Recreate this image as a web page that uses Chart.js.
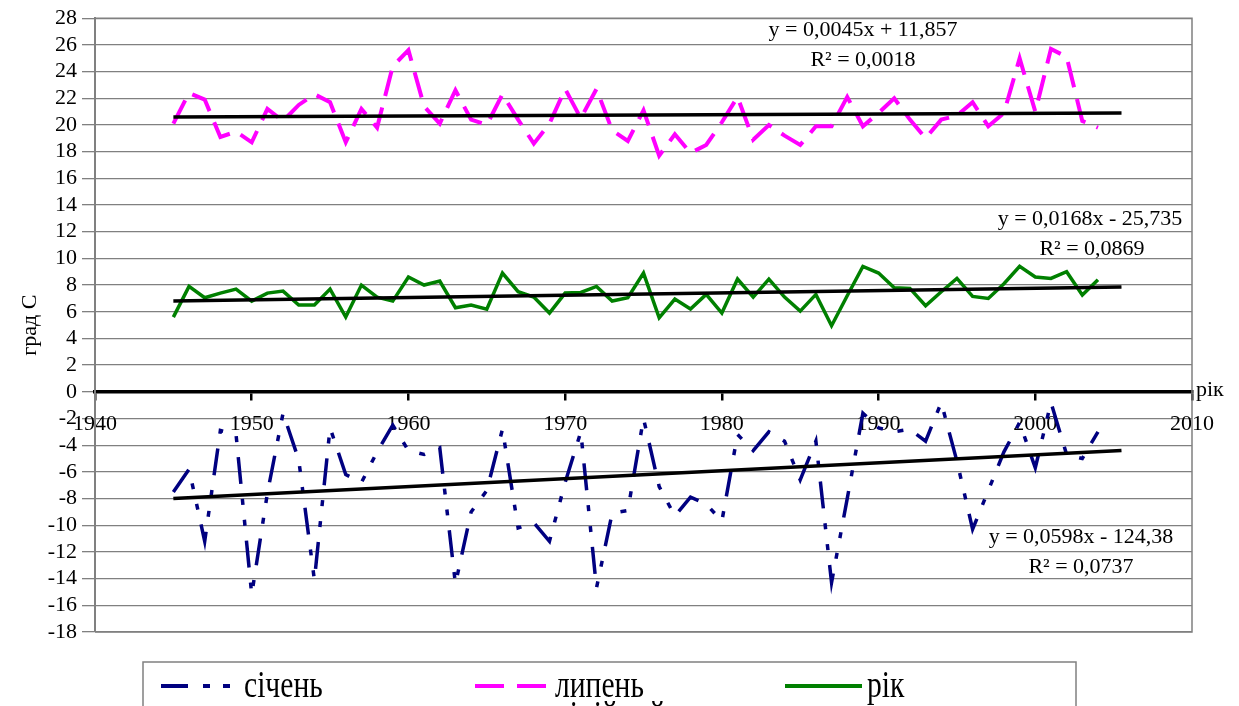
<!DOCTYPE html>
<html><head><meta charset="utf-8">
<script src="https://cdn.jsdelivr.net/npm/chart.js@4.4.0/dist/chart.umd.min.js"></script>
<style>
html,body{margin:0;padding:0;background:#fff;overflow:hidden;width:1239px;height:706px;}
#wrap{position:relative;width:1239px;height:706px;overflow:hidden;}
#c{position:absolute;left:0;top:0;}
#leg{position:absolute;left:0;top:0;}
</style></head>
<body><div id="wrap">
<canvas id="c" width="1239" height="706"></canvas>
<svg id="leg" width="1239" height="706" xmlns="http://www.w3.org/2000/svg">
  <rect x="143" y="662" width="933" height="80" fill="none" stroke="#808080" stroke-width="1.5"/>
  <line x1="161" y1="686" x2="236" y2="686" stroke="#000080" stroke-width="4" stroke-dasharray="27 15 7 13 7 20"/>
  <text x="0" y="0" transform="translate(244,697) scale(0.8,1)" font-family="Liberation Serif" font-size="37" fill="#000">січень</text>
  <line x1="475" y1="686" x2="546" y2="686" stroke="#FF00FF" stroke-width="4" stroke-dasharray="29 13"/>
  <text x="0" y="0" transform="translate(555,697) scale(0.8,1)" font-family="Liberation Serif" font-size="37" fill="#000">липень</text>
  <line x1="785" y1="686" x2="862" y2="686" stroke="#008000" stroke-width="4"/>
  <text x="0" y="0" transform="translate(867,697) scale(0.8,1)" font-family="Liberation Serif" font-size="37" fill="#000">рік</text>
  <text x="0" y="0" transform="translate(555,727) scale(0.8,1)" font-family="Liberation Serif" font-size="37" fill="#000">лінійний</text>
</svg>
</div>
<script>
const years = [1945,1946,1947,1948,1949,1950,1951,1952,1953,1954,
               1955,1956,1957,1958,1959,1960,1961,1962,1963,1964,
               1965,1966,1967,1968,1969,1970,1971,1972,1973,1974,
               1975,1976,1977,1978,1979,1980,1981,1982,1983,1984,
               1985,1986,1987,1988,1989,1990,1991,1992,1993,1994,
               1995,1996,1997,1998,1999,2000,2001,2002,2003,2004];
const janTemp = [-7.5,-5.8,-11.2,-2.9,-3.2,-15.2,-7.6,-1.6,-5.1,-14.1,
                 -2.7,-6.2,-6.8,-4.5,-2.5,-4.4,-4.7,-4.2,-14.4,-9.0,
                 -7.4,-2.8,-10.2,-9.8,-11.2,-6.8,-3.0,-14.7,-9.1,-8.9,
                 -2.0,-7.1,-9.3,-7.9,-8.4,-9.7,-3.2,-4.4,-3.0,-3.7,
                 -6.6,-3.7,-14.3,-8.0,-1.6,-2.7,-3.0,-2.8,-3.7,-0.8,
                 -5.2,-10.3,-7.4,-4.5,-2.3,-5.7,-0.8,-4.7,-5.0,-3.0];
const julTemp = [20.1,22.4,21.9,19.1,19.5,18.7,21.2,20.3,21.5,22.3,
                 21.7,18.7,21.2,19.8,24.4,25.6,21.4,20.1,22.6,20.4,
                 20.0,22.3,20.4,18.6,20.1,22.7,20.5,22.7,19.6,18.8,
                 21.1,17.7,19.3,17.9,18.5,20.2,22.1,18.9,20.0,19.2,
                 18.5,19.9,19.9,22.1,19.9,20.9,22.0,20.4,19.0,20.4,
                 20.7,21.7,19.9,20.9,25.0,21.0,25.7,25.1,20.3,19.8];
const yearTemp = [5.6,7.9,7.05,7.4,7.7,6.8,7.4,7.55,6.5,6.5,
                  7.7,5.6,8.0,7.1,6.8,8.6,8.0,8.3,6.3,6.5,
                  6.2,8.9,7.5,7.1,5.9,7.4,7.45,7.9,6.8,7.05,
                  8.9,5.55,6.95,6.2,7.3,5.9,8.45,7.1,8.45,7.1,
                  6.05,7.3,4.95,7.2,9.4,8.9,7.8,7.75,6.45,7.5,
                  8.5,7.15,7.0,8.1,9.4,8.6,8.5,9.0,7.25,8.4];
const trendYears = [1945, 2005.5];
const janTrend = [-8.0, -4.4];
const julTrend = [20.6, 20.9];
const yearTrend = [6.8, 7.85];
const xTicks = [1940,1950,1960,1970,1980,1990,2000,2010];
const yTicks = [-18,-16,-14,-12,-10,-8,-6,-4,-2,0,2,4,6,8,10,12,14,16,18,20,22,24,26,28];
const julEq = ["y = 0,0045x + 11,857", "R² = 0,0018"];
const yearEq = ["y = 0,0168x - 25,735", "R² = 0,0869"];
const janEq = ["y = 0,0598x - 124,38", "R² = 0,0737"];
const yTitle = "град С";
const xTitle = "рік";

const pts = (xs, ys) => xs.map((x, i) => ({x: x, y: ys[i]}));
const FONT = 'Liberation Serif';

const extras = {
  id: 'extras',
  afterDraw(chart) {
    const ctx = chart.ctx, a = chart.chartArea;
    ctx.save();
    ctx.strokeStyle = '#808080';
    ctx.lineWidth = 1.5;
    ctx.beginPath();
    ctx.moveTo(a.left, a.top); ctx.lineTo(a.right, a.top); ctx.lineTo(a.right, a.bottom); ctx.lineTo(a.left, a.bottom);
    ctx.stroke();
    ctx.fillStyle = '#000';
    ctx.font = '22px "' + FONT + '"';
    ctx.textBaseline = 'alphabetic';
    ctx.textAlign = 'center';
    ctx.fillText(julEq[0], 863, 36);
    ctx.fillText(julEq[1], 863, 66);
    ctx.fillText(yearEq[0], 1090, 225);
    ctx.fillText(yearEq[1], 1092, 255);
    ctx.fillText(janEq[0], 1081, 543);
    ctx.fillText(janEq[1], 1081, 573);
    ctx.textAlign = 'left';
    ctx.fillText(xTitle, 1196, 396);
    ctx.restore();
  }
};

new Chart(document.getElementById('c'), {
  type: 'scatter',
  data: {
    datasets: [
      {label: 'trend jan', data: pts(trendYears, janTrend), showLine: true, borderColor: '#000', borderWidth: 3.5, pointRadius: 0},
      {label: 'trend jul', data: pts(trendYears, julTrend), showLine: true, borderColor: '#000', borderWidth: 3.5, pointRadius: 0},
      {label: 'trend year', data: pts(trendYears, yearTrend), showLine: true, borderColor: '#000', borderWidth: 3.5, pointRadius: 0},
      {label: 'січень', data: pts(years, janTemp), showLine: true, borderColor: '#000080', borderWidth: 3.5, borderDash: [27, 15, 6, 15, 6, 15], pointRadius: 0, tension: 0},
      {label: 'липень', data: pts(years, julTemp), showLine: true, borderColor: '#FF00FF', borderWidth: 4, borderDash: [26, 12], pointRadius: 0, tension: 0},
      {label: 'рік', data: pts(years, yearTemp), showLine: true, borderColor: '#008000', borderWidth: 3.5, pointRadius: 0, tension: 0}
    ]
  },
  options: {
    responsive: false,
    animation: false,
    devicePixelRatio: 1,
    layout: {padding: {left: 0, right: 47, top: 18, bottom: 74}},
    plugins: {legend: {display: false}, tooltip: {enabled: false}},
    scales: {
      x: {
        type: 'linear', min: 1940, max: 2010, position: {y: 0},
        afterBuildTicks: s => { s.ticks = xTicks.map(v => ({value: v})); },
        ticks: {color: '#000', font: {family: FONT, size: 22}, padding: 12, maxRotation: 0, autoSkip: false, callback: v => String(v)},
        grid: {drawOnChartArea: false, drawTicks: true, tickLength: 7, color: '#000', lineWidth: 2.5},
        border: {display: true, color: '#000', width: 3.5}
      },
      y: {
        type: 'linear', min: -18, max: 28,
        afterBuildTicks: s => { s.ticks = yTicks.map(v => ({value: v})); },
        afterFit: s => { s.width = 95; },
        ticks: {color: '#000', font: {family: FONT, size: 22}, padding: 5, autoSkip: false, callback: v => String(v)},
        grid: {color: '#808080', lineWidth: 1.3, tickLength: 13},
        border: {display: true, color: '#808080', width: 2},
        title: {display: true, text: yTitle, color: '#000', font: {family: FONT, size: 22}, padding: {top: 17, bottom: 0}}
      }
    }
  },
  plugins: [extras]
});
</script>
</body></html>
